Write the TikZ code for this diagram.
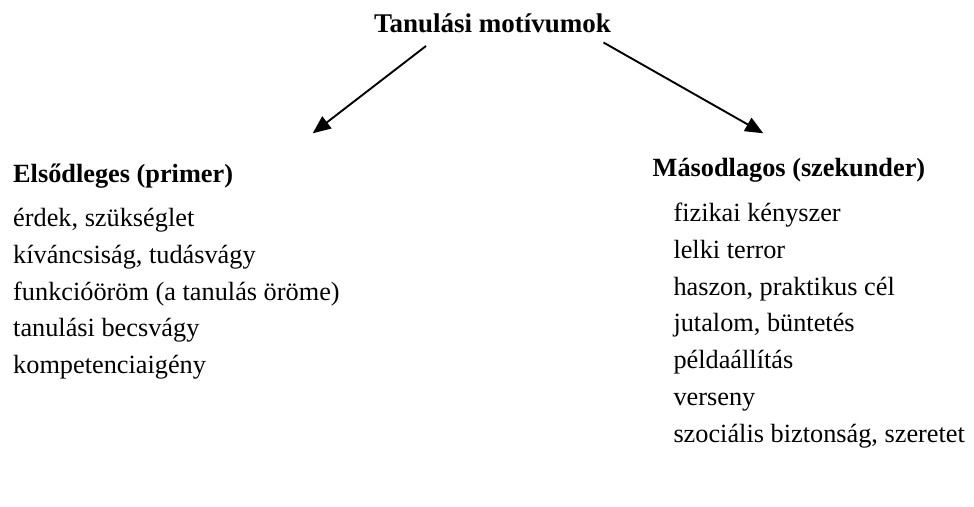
\documentclass[tikz,border=0pt]{standalone}
\usepackage{fontspec}
\setmainfont{Liberation Serif}
\usetikzlibrary{arrows.meta}
\begin{document}
\begin{tikzpicture}[x=1pt,y=-1pt,
  txt/.style={anchor=base west,inner sep=0pt,font=\fontsize{26.3}{30}\selectfont},
  head/.style={txt,font=\fontsize{26.3}{30}\selectfont\bfseries},
  link/.style={line width=1.9pt,-{Triangle[length=18pt,width=15pt]}}]
\path[use as bounding box,fill=white] (0,0) rectangle (974,506);

% title
\node[head,anchor=base,font=\fontsize{27}{30}\selectfont\bfseries] (title) at (492.5,32) {Tanulási motívumok};

% primary motives
\node[head] (prim) at (13,182) {Elsődleges (primer)};
\node[txt] (p1) at (13,226.7) {érdek, szükséglet};
\node[txt] (p2) at (13,263.4) {kíváncsiság, tudásvágy};
\node[txt] (p3) at (13,300.1) {funkcióöröm (a tanulás öröme)};
\node[txt] (p4) at (13,336.8) {tanulási becsvágy};
\node[txt] (p5) at (13,373.5) {kompetenciaigény};

% secondary motives
\node[head] (sec) at (652.5,176.5) {Másodlagos (szekunder)};
\node[txt] (s1) at (673.3,221.5) {fizikai kényszer};
\node[txt] (s2) at (673.3,258.3) {lelki terror};
\node[txt] (s3) at (673.3,295.1) {haszon, praktikus cél};
\node[txt] (s4) at (673.3,331.9) {jutalom, büntetés};
\node[txt] (s5) at (673.3,368.7) {példaállítás};
\node[txt] (s6) at (673.3,405.5) {verseny};
\node[txt] (s7) at (673.3,442.3) {szociális biztonság, szeretet};

% arrows from the title to both groups
\coordinate (la) at (426,46);
\coordinate (lb) at (312.7,133.3);
\coordinate (ra) at (603.5,42.5);
\coordinate (rb) at (763.3,133.3);
\draw[link] (la) -- (lb);
\draw[link] (ra) -- (rb);
\end{tikzpicture}
\end{document}
